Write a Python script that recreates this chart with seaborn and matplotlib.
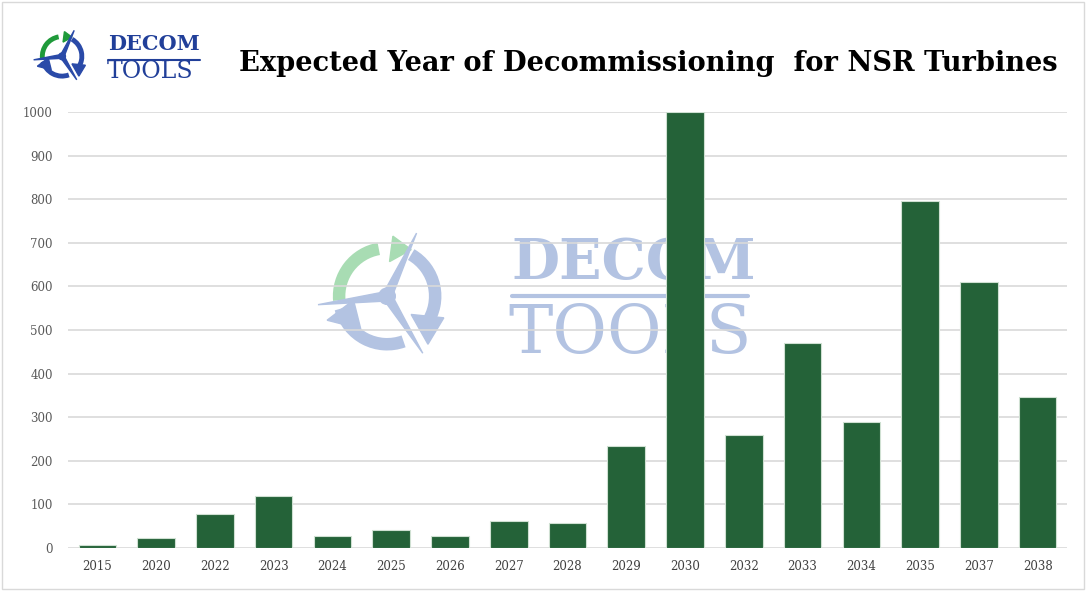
import numpy as np
import pandas as pd
import matplotlib.pyplot as plt
import seaborn as sns
from matplotlib.patches import Arc, Polygon, Circle, Rectangle

years = ['2015', '2020', '2022', '2023', '2024', '2025', '2026', '2027', '2028',
         '2029', '2030', '2032', '2033', '2034', '2035', '2037', '2038']
turbines = [8, 22, 79, 120, 28, 41, 28, 62, 58,
            235, 1000, 260, 471, 290, 795, 611, 347]

df = pd.DataFrame({'year': years, 'turbines': turbines})

sns.set_style('white')
plt.rcParams['font.family'] = ['DejaVu Serif']

bar_color = '#246238'
grid_color = '#d9d9d9'
tick_color = '#595959'


def draw_logo(ax, green, blue, blade, lw):
    # circular arrows around a three-blade turbine
    ax.add_patch(Arc((0, 0), 2.0, 2.0, theta1=100, theta2=185, lw=lw, color=green))
    ax.add_patch(Polygon([[0.12, 1.25], [0.5, 0.97], [0.05, 0.72]], color=green))
    ax.add_patch(Arc((0, 0), 2.0, 2.0, theta1=-35, theta2=60, lw=lw, color=blue))
    ax.add_patch(Polygon([[0.5, -0.38], [0.85, -1.0], [1.18, -0.45]], color=blue))
    ax.add_patch(Arc((0, 0), 2.0, 2.0, theta1=195, theta2=290, lw=lw, color=blue))
    ax.add_patch(Polygon([[-0.7, -0.08], [-1.25, -0.5], [-0.55, -0.68]], color=blue))
    for ang, length in [(65, 1.45), (187, 1.45), (-58, 1.4)]:
        a = np.deg2rad(ang)
        p = np.deg2rad(ang + 90)
        tip = [length * np.cos(a), length * np.sin(a)]
        w = 0.1
        ax.add_patch(Polygon([[w * np.cos(p), w * np.sin(p)], tip,
                              [-w * np.cos(p), -w * np.sin(p)]], color=blade))
    ax.add_patch(Circle((0, 0), 0.17, color=blade))
    ax.set_xlim(-1.5, 1.5)
    ax.set_ylim(-1.5, 1.5)
    ax.set_aspect('equal')
    ax.axis('off')


fig = plt.figure(figsize=(10.89, 5.93), dpi=100)
ax = fig.add_axes([0.0624, 0.0759, 0.9174, 0.7353])

sns.barplot(data=df, x='year', y='turbines', color=bar_color, width=0.64,
            edgecolor='#cfe0d2', linewidth=0.8, saturation=1, ax=ax, zorder=2)

ax.set_ylim(0, 1000)
ax.set_yticks(range(0, 1001, 100))
ax.set_xlim(-0.5, len(years) - 0.5)
ax.yaxis.grid(True, color=grid_color, lw=1.2)
ax.set_axisbelow(True)
for s in ax.spines.values():
    s.set_visible(False)
ax.set_xlabel('')
ax.set_ylabel('')
ax.tick_params(axis='y', length=0, pad=11, labelsize=8.5, labelcolor=tick_color)
ax.tick_params(axis='x', length=0, pad=9, labelsize=8.5, labelcolor='#404040')

# watermark behind the bars
wm_color = '#b3c3e2'
ax.text(0.444, 0.652, 'DECOM', transform=ax.transAxes, fontsize=40, fontweight='bold',
        color=wm_color, ha='left', va='center', zorder=0.3)
ax.plot([0.444, 0.681], [0.578, 0.578], transform=ax.transAxes, color=wm_color, lw=3,
        zorder=0.3)
ax.text(0.441, 0.49, 'TOOLS', transform=ax.transAxes, fontsize=48,
        color=wm_color, ha='left', va='center', zorder=0.3)
wm_ax = fig.add_axes([0.283, 0.379, 0.145, 0.243], zorder=-1)
draw_logo(wm_ax, '#a8dcb3', '#b3c3e2', '#b3c3e2', 9)
ax.set_zorder(1)
ax.patch.set_alpha(0)

# header logo and title
logo_ax = fig.add_axes([0.028, 0.855, 0.058, 0.1])
draw_logo(logo_ax, '#1f9a3a', '#2a4aa8', '#2a4aa8', 3.5)
fig.text(0.099, 0.925, 'DECOM', fontsize=15, fontweight='bold', color='#213f99',
         ha='left', va='center')
fig.add_artist(plt.Line2D([0.099, 0.184], [0.899, 0.899], color='#213f99', lw=1.5))
fig.text(0.098, 0.88, 'TOOLS', fontsize=17, color='#213f99', ha='left', va='center')

fig.text(0.971, 0.893, 'Expected Year of Decommissioning  for NSR Turbines',
         fontsize=19.6, fontweight='bold', color='black', ha='right', va='center')

fig.add_artist(Rectangle((0.002, 0.006), 0.993, 0.99, transform=fig.transFigure,
                         fill=False, edgecolor='#d9d9d9', lw=1))

fig.savefig('out.png', dpi=100)
